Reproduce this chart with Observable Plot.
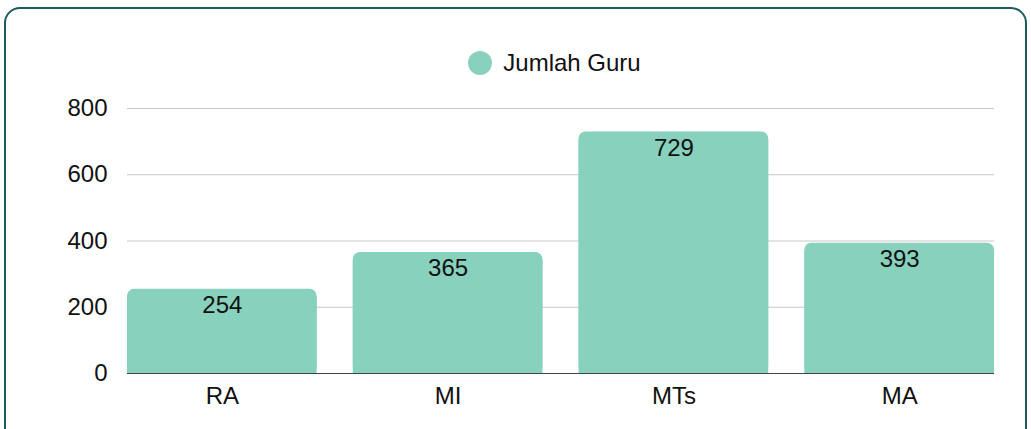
<!DOCTYPE html>
<html>
<head>
<meta charset="utf-8">
<script src="https://cdn.jsdelivr.net/npm/d3@7"></script>
<script src="https://cdn.jsdelivr.net/npm/@observablehq/plot@0.6"></script>
<style>
  html, body { margin: 0; padding: 0; background: #fff; }
  body { width: 1031px; height: 429px; overflow: hidden; position: relative; font-family: "Liberation Sans", Arial, sans-serif; }
  #frame { position: absolute; left: 4px; top: 7px; height: 440px; border: 2px solid #1d5c5e; border-radius: 16px; box-sizing: border-box; width: 1023px; }
  #legend { position: relative; height: 88px; display: flex; justify-content: center; align-items: flex-start; }
  #legend .item { display: flex; align-items: center; margin-top: 51px; margin-left: 78px; font-size: 24px; line-height: 24px; color: #111; }
  #legend .sw { width: 24px; height: 24px; border-radius: 50%; margin-right: 11px; }
  #chart { position: relative; }
</style>
</head>
<body>
<div id="frame"></div>
<div id="legend"></div>
<div id="chart"></div>
<script>
const categories = ["RA", "MI", "MTs", "MA"];
const jumlahGuru = [254, 365, 729, 393];
const seriesName = "Jumlah Guru";
const yTicks = [0, 200, 400, 600, 800];
const barColor = "#87d1bd";

const data = categories.map((c, i) => ({category: c, value: jumlahGuru[i]}));

const legend = document.getElementById("legend");
legend.innerHTML = `<div class="item"><span class="sw" style="background:${barColor}"></span><span>${seriesName}</span></div>`;

const chart = Plot.plot({
  width: 1031,
  height: 341,
  marginLeft: 127,
  marginRight: 37,
  marginTop: 20,
  marginBottom: 56,
  style: {fontFamily: "Liberation Sans, Arial, sans-serif", fontSize: "24px", color: "#111", background: "transparent"},
  x: {domain: categories, paddingInner: 0.16, paddingOuter: 0, round: false, label: null},
  y: {domain: [0, 800], ticks: yTicks, label: null},
  marks: [
    Plot.gridY(yTicks.filter(t => t > 0), {stroke: "#c8c8c8", strokeOpacity: 1, strokeWidth: 1}),
    Plot.axisY({ticks: yTicks, tickSize: 0, tickPadding: 20, fontSize: 24, label: null}),
    Plot.axisX({tickSize: 0, tickPadding: 13, fontSize: 24, label: null}),
    Plot.barY(data, {x: "category", y: "value", fill: barColor, rx: 7}),
    Plot.barY(data, {x: "category", y: "value", fill: barColor, insetTop: 8}),
    Plot.ruleY([0], {stroke: "#444", strokeWidth: 1}),
    Plot.text(data, {x: "category", y: "value", text: d => String(d.value), dy: 16, fontSize: 24, fill: "#111", lineAnchor: "middle"})
  ]
});
document.getElementById("chart").appendChild(chart);
</script>
</body>
</html>
